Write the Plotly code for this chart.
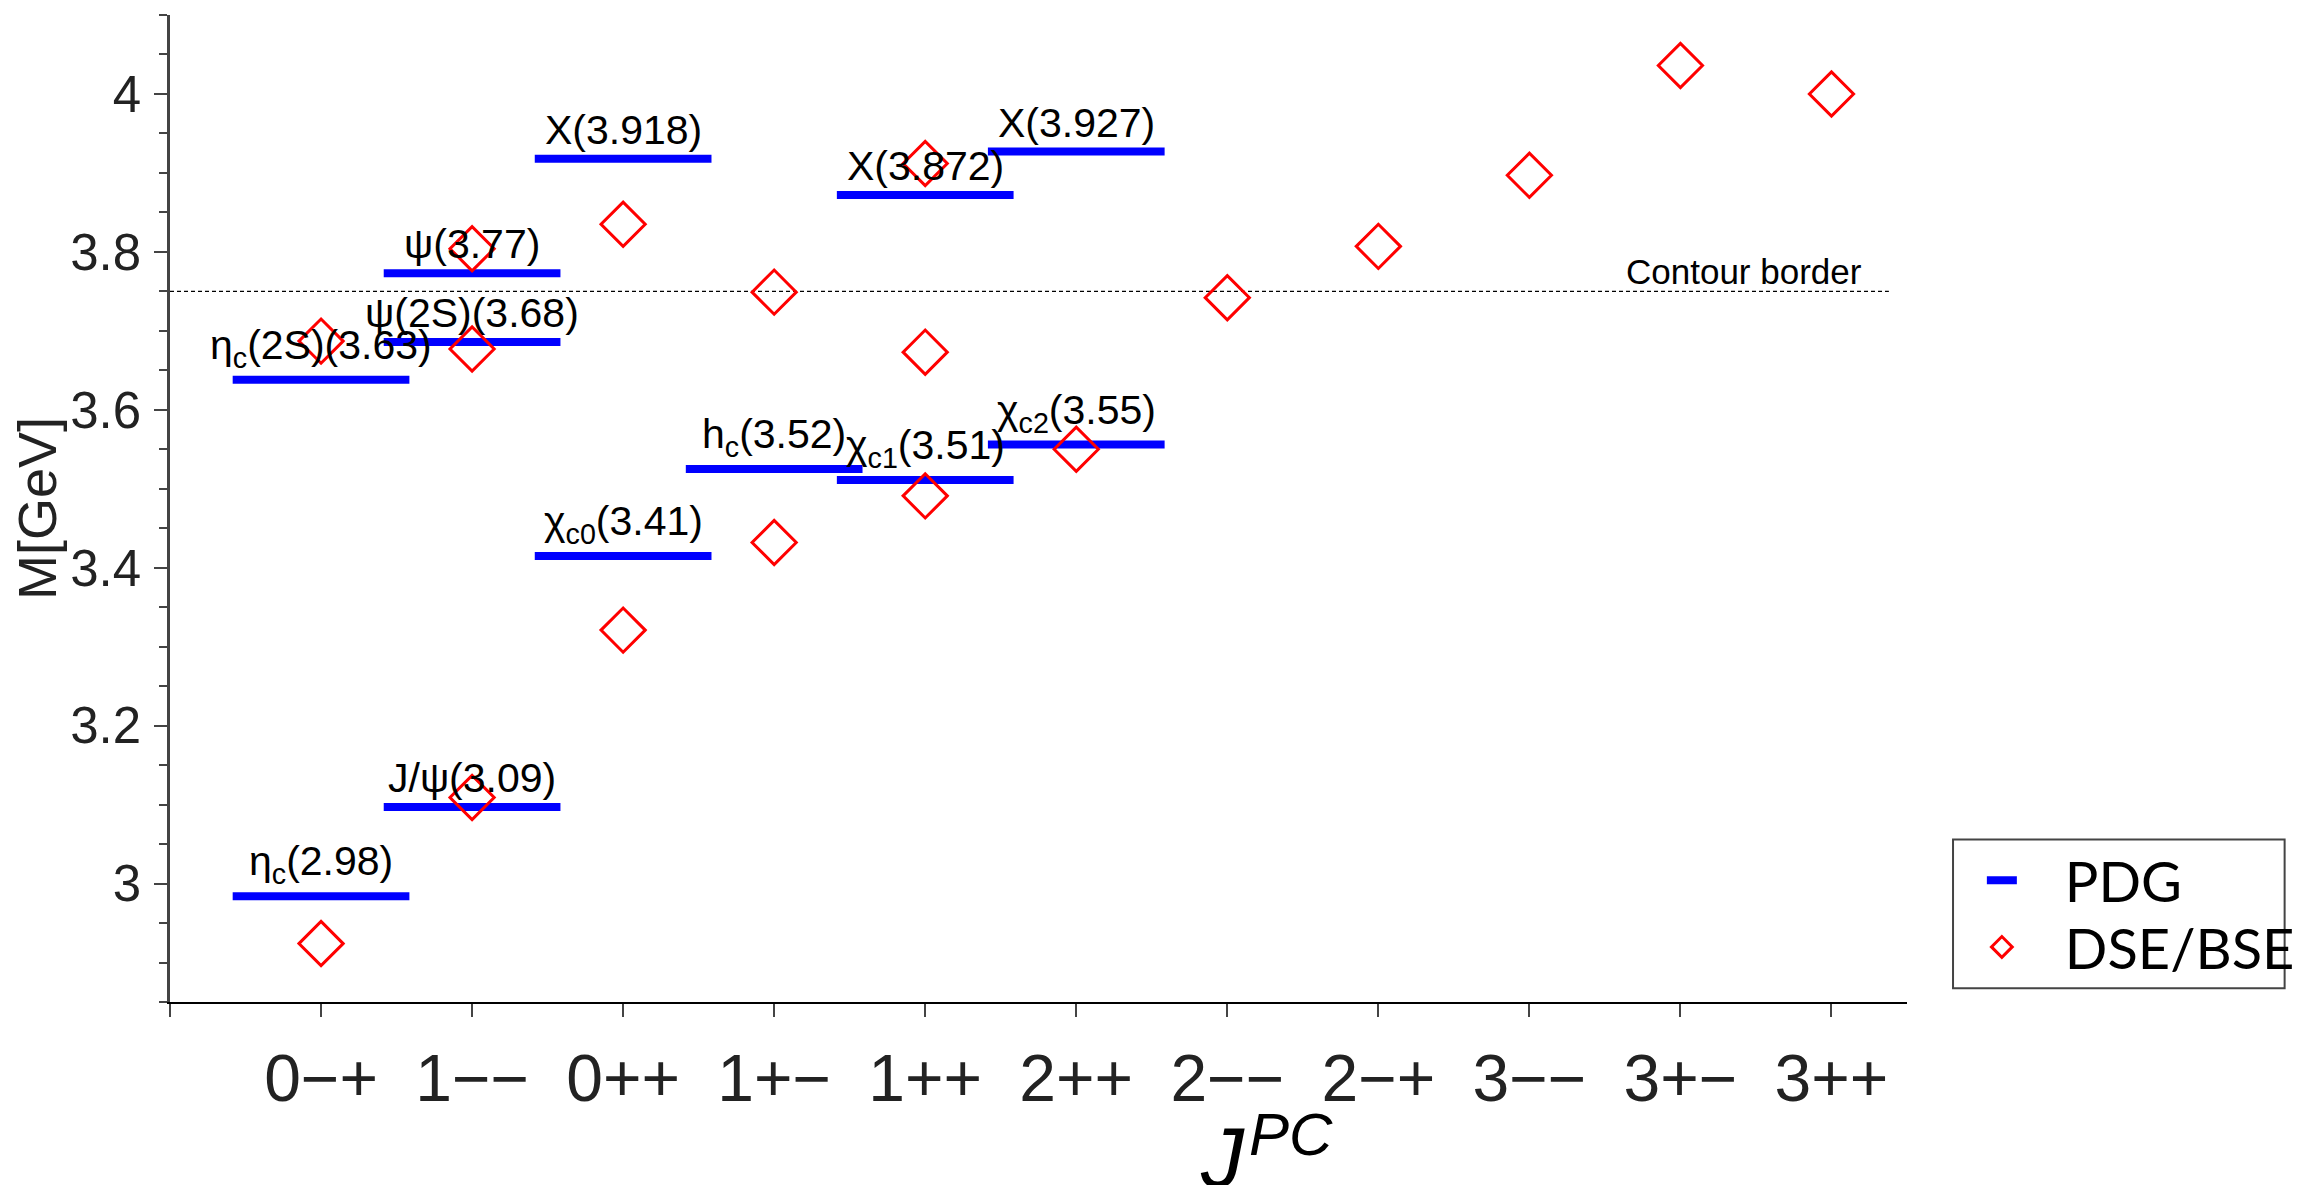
import plotly.graph_objects as go

# ---------------- data ----------------
jpc_labels = ["0−+", "1−−", "0++", "1+−", "1++", "2++", "2−−", "2−+", "3−−", "3+−", "3++"]

pdg_jpc = ["0−+", "1−−", "0++", "1+−", "1++", "2++",
           "0−+", "1−−", "1−−", "1++", "0++", "2++"]
pdg_mass = [2.984, 3.097, 3.415, 3.525, 3.511, 3.556,
            3.638, 3.686, 3.773, 3.872, 3.918, 3.927]
pdg_label = ["η<sub>c</sub>(2.98)", "J/ψ(3.09)", "χ<sub>c0</sub>(3.41)", "h<sub>c</sub>(3.52)",
             "χ<sub>c1</sub>(3.51)", "χ<sub>c2</sub>(3.55)", "η<sub>c</sub>(2S)(3.63)",
             "ψ(2S)(3.68)", "ψ(3.77)", "X(3.872)", "X(3.918)", "X(3.927)"]

dse_jpc = ["0−+", "0−+", "1−−", "1−−", "1−−", "0++", "0++", "1+−", "1+−",
           "1++", "1++", "1++", "2++", "2−−", "2−+", "3−−", "3+−", "3++"]
dse_mass = [2.924, 3.687, 3.109, 3.677, 3.804, 3.321, 3.835, 3.432, 3.749,
            3.491, 3.673, 3.912, 3.550, 3.742, 3.807, 3.897, 4.036, 4.000]

contour_mass = 3.75
contour_label = "Contour border"
contour_x = [-1, 10.38]

# ---------------- styling constants ----------------
HW = 0.585          # half width of PDG level segments (in category units)
FONT = "Liberation Sans, Arial, sans-serif"
LEG_FONT = "Lato, Liberation Sans, sans-serif"

idx = {lab: i for i, lab in enumerate(jpc_labels)}

seg_x, seg_y = [], []
for j, m in zip(pdg_jpc, pdg_mass):
    c = idx[j]
    seg_x += [c - HW, c + HW, None]
    seg_y += [m, m, None]

fig = go.Figure()

fig.add_trace(go.Scatter(
    x=contour_x, y=[contour_mass] * len(contour_x), mode="lines",
    line=dict(color="black", width=1.2, dash="4px,3px"),
    showlegend=False, hoverinfo="skip"))

fig.add_trace(go.Scatter(
    x=seg_x, y=seg_y, mode="lines", name="\u00a0\u00a0\u00a0PDG",
    line=dict(color="#0000ff", width=8), legend="legend"))

fig.add_trace(go.Scatter(
    x=[idx[j] for j in dse_jpc], y=dse_mass, mode="markers", name="\u00a0\u00a0\u00a0DSE/BSE",
    marker=dict(symbol="diamond-open", size=34, color="#ff0000",
                line=dict(color="#ff0000", width=3)),
    legend="legend2"))

# PDG labels
for j, m, t in zip(pdg_jpc, pdg_mass, pdg_label):
    fig.add_annotation(x=idx[j], y=m, text=t, showarrow=False,
                       xanchor="center", yanchor="bottom", yshift=4,
                       font=dict(family=FONT, size=41, color="black"))

# contour border label
fig.add_annotation(x=10.215, y=contour_mass, text=contour_label, showarrow=False,
                   xanchor="right", yanchor="bottom", yshift=-2,
                   font=dict(family=FONT, size=35, color="black"))

# x axis title  J^PC (offset to the right as in the original)
fig.add_annotation(x=0.6200, y=-0.1067, xref="paper", yref="paper",
                   text="<i>J</i>", showarrow=False,
                   xanchor="right", yanchor="top",
                   font=dict(family=FONT, size=86, color="black"))
fig.add_annotation(x=0.6200, y=-0.0983, xref="paper", yref="paper",
                   text="<i>PC</i>", showarrow=False,
                   xanchor="left", yanchor="top",
                   font=dict(family=FONT, size=60, color="black"))

# y axis title
fig.add_annotation(x=-0.0768, y=0.5, xref="paper", yref="paper",
                   text="M[GeV]", textangle=-90, showarrow=False,
                   xanchor="center", yanchor="middle",
                   font=dict(family=FONT, size=54, color="#222222"))

# legend frame
fig.add_shape(type="rect", xref="paper", yref="paper",
              x0=1.0265, x1=1.2174, y0=0.0139, y1=0.1646,
              line=dict(color="#444444", width=2), fillcolor="rgba(0,0,0,0)")

fig.update_layout(
    width=2312, height=1185,
    margin=dict(l=170, r=392, t=15, b=183, pad=0),
    paper_bgcolor="white", plot_bgcolor="white",
    font=dict(family=FONT, color="#222222"),
    legend=dict(x=1.0431, y=0.1233, xanchor="left", yanchor="middle",
                bgcolor="rgba(0,0,0,0)", borderwidth=0,
                font=dict(family=LEG_FONT, size=56, color="black")),
    legend2=dict(x=1.0431, y=0.0557, xanchor="left", yanchor="middle",
                 bgcolor="rgba(0,0,0,0)", borderwidth=0,
                 font=dict(family=LEG_FONT, size=56, color="black")),
)

fig.update_xaxes(
    range=[-1, 10.5], showgrid=False, zeroline=False,
    showline=True, linecolor="black", linewidth=2,
    tickmode="array", tickvals=[-1] + list(range(len(jpc_labels))),
    ticktext=[""] + jpc_labels,
    ticks="outside", ticklen=13, tickwidth=1.5, tickcolor="#444444",
    ticklabelstandoff=5,
    tickfont=dict(family=FONT, size=66, color="#222222"),
)

fig.update_yaxes(
    range=[2.85, 4.1], showgrid=False, zeroline=False,
    showline=True, linecolor="#444444", linewidth=2.5,
    tick0=3, dtick=0.2, ticks="outside", ticklen=13, tickwidth=1.5, tickcolor="#444444",
    ticklabelstandoff=3,
    tickfont=dict(family=FONT, size=51, color="#222222"),
    minor=dict(dtick=0.05, ticks="outside", ticklen=8, tickwidth=1.5, tickcolor="#444444",
               showgrid=False),
)

fig.write_html("out.html", config={"displayModeBar": False},
               post_script="document.body.style.margin='0px';document.body.style.overflow='hidden';")
